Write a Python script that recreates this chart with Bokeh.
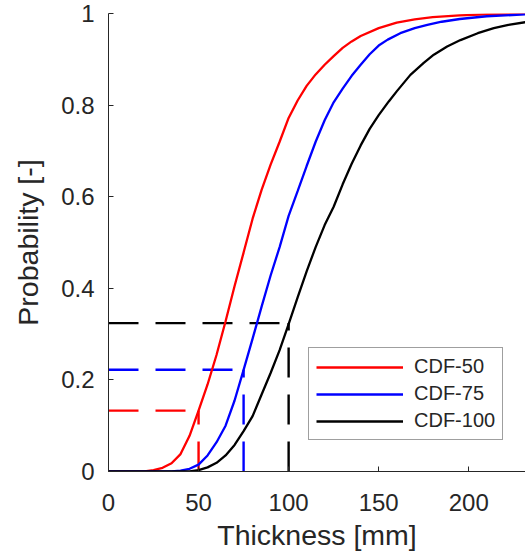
from bokeh.plotting import figure
from bokeh.models import Range1d, FixedTicker, Legend, LegendItem
from bokeh.embed import file_html
from bokeh.resources import INLINE

# --- data ---
thick_50 = [0, 20, 25, 30, 35, 40, 45, 50, 55, 60, 65, 70, 75, 80, 85, 90, 95, 100, 105,
            110, 115, 120, 125, 130, 135, 140, 150, 160, 170, 180, 195, 210, 231.5]
prob_50 = [0, 0.0, 0.003, 0.008, 0.018, 0.038, 0.078, 0.133, 0.19, 0.255, 0.328, 0.405,
           0.478, 0.552, 0.615, 0.67, 0.72, 0.772, 0.81, 0.842, 0.867, 0.888, 0.907, 0.925,
           0.939, 0.951, 0.968, 0.980, 0.987, 0.992, 0.996, 0.998, 0.999]

thick_75 = [0, 35, 40, 45, 50, 55, 60, 65, 70, 75, 80, 85, 90, 95, 100, 105, 110, 115,
            120, 125, 130, 135, 140, 145, 150, 155, 162, 170, 177, 185, 195, 210, 231.5]
prob_75 = [0, 0.0, 0.002, 0.006, 0.015, 0.035, 0.064, 0.1, 0.155, 0.222, 0.29, 0.36,
           0.428, 0.49, 0.558, 0.612, 0.667, 0.72, 0.767, 0.806, 0.836, 0.864, 0.888, 0.911,
           0.93, 0.943, 0.957, 0.968, 0.975, 0.982, 0.988, 0.994, 0.998]

thick_100 = [0, 45, 50, 55, 60, 65, 70, 75, 80, 85, 90, 95, 100, 105, 110, 115, 120, 125,
             130, 135, 140, 145, 150, 155.6, 160, 167.6, 175, 180.6, 188, 195.4, 205, 213.9,
             222, 231.5]
prob_100 = [0, 0.0, 0.003, 0.009, 0.019, 0.035, 0.058, 0.088, 0.121, 0.168, 0.215, 0.265,
            0.322, 0.38, 0.437, 0.49, 0.538, 0.578, 0.627, 0.672, 0.712, 0.748, 0.778, 0.808,
            0.83, 0.866, 0.892, 0.910, 0.928, 0.942, 0.957, 0.968, 0.975, 0.981]

threshold_thickness = [50, 75, 100]
threshold_prob = [0.133, 0.222, 0.324]
series_names = ["CDF-50", "CDF-75", "CDF-100"]
series_colors = ["#ff0000", "#0000ff", "#000000"]

xticks = [0, 50, 100, 150, 200]
yticks = [0, 0.2, 0.4, 0.6, 0.8, 1]

AX = "#262626"
FONT = "Liberation Sans"

p = figure(width=525, height=553, x_range=Range1d(0, 231.5), y_range=Range1d(0, 1),
           output_backend="svg", toolbar_location=None,
           min_border_left=108, min_border_right=0, min_border_top=13, min_border_bottom=82)
p.outline_line_color = None
p.grid.visible = False
p.background_fill_color = "white"
p.border_fill_color = "white"

for ax in (p.xaxis[0], p.yaxis[0]):
    ax.axis_line_color = AX
    ax.axis_line_width = 1
    ax.major_tick_line_color = AX
    ax.major_tick_in = 5
    ax.major_tick_out = 0
    ax.minor_tick_line_color = None
    ax.major_label_text_font = FONT
    ax.major_label_text_font_size = "24px"
    ax.major_label_text_color = AX
    ax.axis_label_text_font = FONT
    ax.axis_label_text_font_size = "28.5px"
    ax.axis_label_text_font_style = "normal"
    ax.axis_label_text_color = AX

p.xaxis.ticker = FixedTicker(ticks=xticks)
p.yaxis.ticker = FixedTicker(ticks=yticks)
p.yaxis.major_label_overrides = {0: "0", 1: "1"}
p.xaxis.axis_label = "Thickness [mm]"
p.yaxis.axis_label = "Probability [-]"
p.xaxis.major_label_standoff = 22
p.xaxis.axis_label_standoff = 5
p.yaxis.major_label_standoff = 14
p.yaxis.axis_label_standoff = 14

# dashed guide lines
for tx, ty, c in zip(threshold_thickness, threshold_prob, series_colors):
    p.line([0, tx], [ty, ty], line_color=c, line_width=2.4, line_dash="30 17")
    p.line([tx, tx], [0, ty], line_color=c, line_width=2.4, line_dash="30 17")

renderers = []
for xs, ys, c in zip([thick_50, thick_75, thick_100], [prob_50, prob_75, prob_100], series_colors):
    r = p.line(xs, ys, line_color=c, line_width=2.3)
    renderers.append(r)

legend = Legend(items=[LegendItem(label=n, renderers=[r]) for n, r in zip(series_names, renderers)],
                location=(200, 31))
legend.margin = 0
legend.padding = 7
legend.spacing = 4
legend.glyph_width = 87
legend.glyph_height = 20
legend.label_height = 20
legend.label_standoff = 11
legend.label_text_font = FONT
legend.label_text_font_size = "20px"
legend.label_text_color = AX
legend.border_line_color = "#404040"
legend.border_line_width = 1
legend.background_fill_color = "white"
legend.background_fill_alpha = 1
p.add_layout(legend, "center")

open("out.html", "w").write(file_html(p, INLINE))
